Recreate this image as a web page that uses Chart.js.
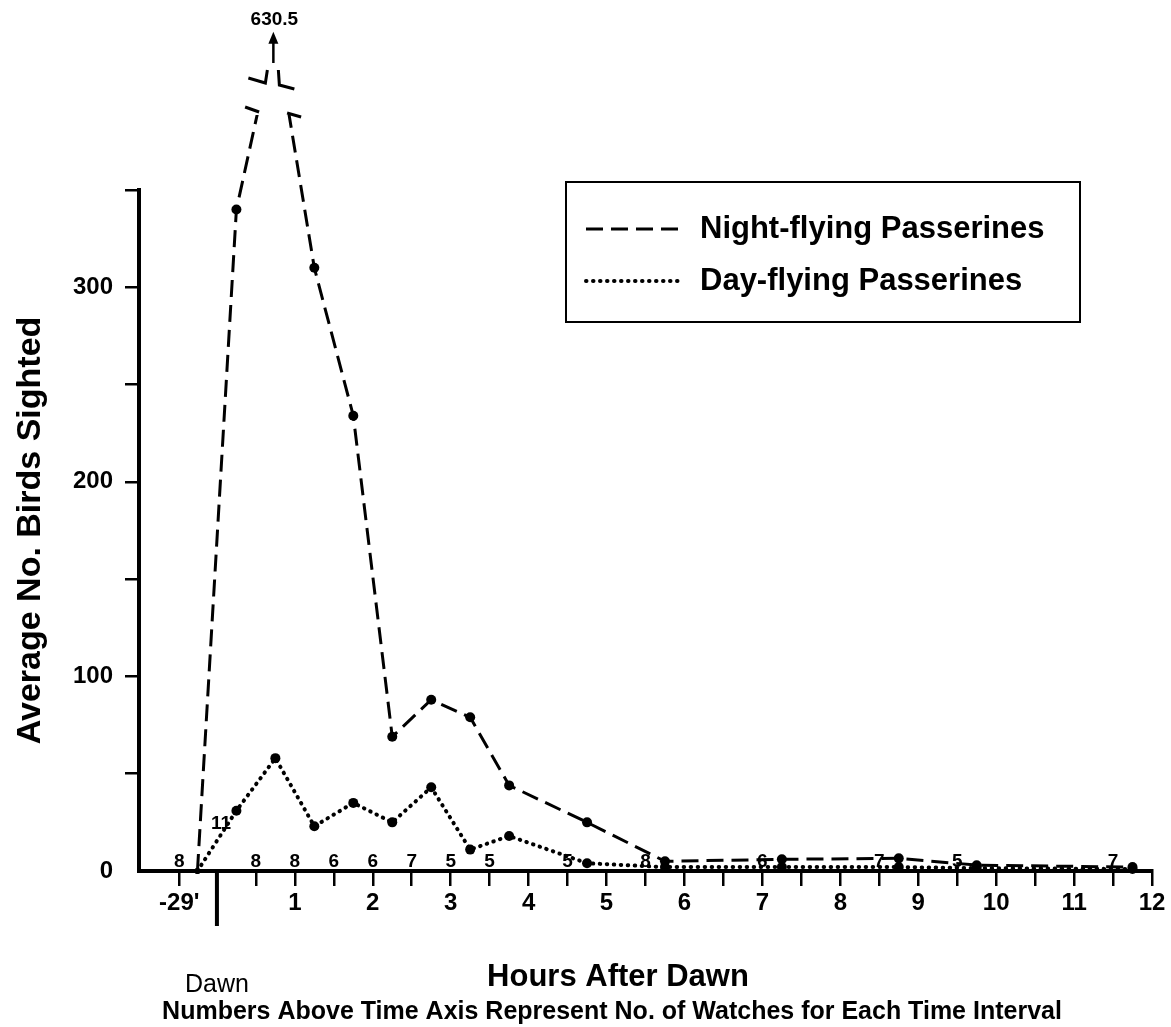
<!DOCTYPE html>
<html><head><meta charset="utf-8">
<script src="https://cdn.jsdelivr.net/npm/chart.js@4.4.1/dist/chart.umd.min.js"></script>
<style>html,body{margin:0;padding:0;background:#fff;}#wrap{width:1171px;height:1027px;position:relative;}canvas{display:block;}</style>
</head><body><div id="wrap"><canvas id="c" width="1171" height="1027"></canvas></div>
<script>
// ---- data ----
const hours = [-0.25, 0.25, 0.75, 1.25, 1.75, 2.25, 2.75, 3.25, 3.75, 4.75, 5.75, 7.25, 8.75, 9.75, 11.75];
const nightFlying = [0, 340, 630.5, 310, 234, 69, 88, 79, 44, 25, 5, 6, 6.5, 3, 2];
const dayFlying = [0, 31, 58, 23, 35, 25, 43, 11, 18, 4, 2, 2, 2, 1.5, 1];
const seriesNames = ['Night-flying Passerines', 'Day-flying Passerines'];
const xTickValues = [-29/60, 0.5, 1, 1.5, 2, 2.5, 3, 3.5, 4, 4.5, 5, 5.5, 6, 6.5, 7, 7.5, 8, 8.5, 9, 9.5, 10, 10.5, 11, 11.5, 12];
const xTickLabels = ["-29'", '', '1', '', '2', '', '3', '', '4', '', '5', '', '6', '', '7', '', '8', '', '9', '', '10', '', '11', '', '12'];
const yTickValues = [0, 50, 100, 150, 200, 250, 300, 350];
const yTickLabels = ['0', '', '100', '', '200', '', '300', ''];
const watchHours = [-29/60, 0, 0.5, 1, 1.5, 2, 2.5, 3, 3.5, 4.5, 5.5, 7, 8.5, 9.5, 11.5];
const watchCounts = [8, 11, 8, 8, 6, 6, 7, 5, 5, 5, 8, 6, 7, 5, 7];
const xTitle = 'Hours After Dawn';
const yTitle = 'Average No. Birds Sighted';
const caption = 'Numbers Above Time Axis Represent No. of Watches for Each Time Interval';
const dawnLabel = 'Dawn';

// broken axis above the top of the y axis
const AXIS_TOP = 350, BREAK_SCALE = 0.29;
const shown = v => v > AXIS_TOP ? AXIS_TOP + (v - AXIS_TOP) * BREAK_SCALE : v;
const peakIndex = nightFlying.indexOf(Math.max(...nightFlying));

const FONT = '"Liberation Sans", Arial, Helvetica, sans-serif';
const CLIP_TOP = 75;

const decor = {
  id: 'decor',
  afterDraw(chart) {
    const {ctx, scales: {x, y}, chartArea: ca} = chart;
    ctx.save();
    ctx.fillStyle = '#000'; ctx.strokeStyle = '#000';
    const y0 = y.getPixelForValue(0);
    // Dawn tick
    const xd = x.getPixelForValue(0);
    ctx.lineWidth = 4; ctx.lineCap = 'butt';
    ctx.beginPath(); ctx.moveTo(xd, y0); ctx.lineTo(xd, y0 + 55); ctx.stroke();
    ctx.font = '25px ' + FONT; ctx.textAlign = 'center'; ctx.textBaseline = 'middle';
    ctx.fillText(dawnLabel, xd, 985);
    // titles
    ctx.font = 'bold 31px ' + FONT;
    ctx.fillText(xTitle, 618, 977);
    ctx.font = 'bold 25px ' + FONT;
    ctx.fillText(caption, 612, 1012);
    // watch counts
    ctx.font = 'bold 19px ' + FONT; ctx.textBaseline = 'alphabetic';
    watchHours.forEach((h, i) => {
      const px = x.getPixelForValue(h);
      if (h === 0) ctx.fillText(String(watchCounts[i]), px + 4, y0 - 42);
      else ctx.fillText(String(watchCounts[i]), px, y0 - 4);
    });
    // break on the peak
    const pts = chart.getDatasetMeta(0).data;
    const pk = pts[peakIndex], a = pts[peakIndex - 1], b = pts[peakIndex + 1];
    const yc = ca.top - CLIP_TOP;
    const at = (p, q) => p.x + (q.x - p.x) * (yc - p.y) / (q.y - p.y);
    const xl = at(a, pk), xr = at(b, pk);
    ctx.lineWidth = 3;
    ctx.beginPath(); ctx.moveTo(xl - 12, yc - 8); ctx.lineTo(xl + 2, yc - 3); ctx.stroke();
    ctx.beginPath(); ctx.moveTo(xr - 2, yc - 2); ctx.lineTo(xr + 12, yc + 2); ctx.stroke();
    const xp = pk.x - 2;
    ctx.beginPath(); ctx.moveTo(xp - 25, yc - 37); ctx.lineTo(xp - 8, yc - 32); ctx.lineTo(xp - 6, yc - 45); ctx.stroke();
    ctx.beginPath(); ctx.moveTo(xp + 5, yc - 45); ctx.lineTo(xp + 6, yc - 30); ctx.lineTo(xp + 21, yc - 26); ctx.stroke();
    ctx.lineWidth = 2.5;
    ctx.beginPath(); ctx.moveTo(xp, yc - 52); ctx.lineTo(xp, pk.y + 4); ctx.stroke();
    ctx.beginPath(); ctx.moveTo(xp - 5, pk.y + 12); ctx.lineTo(xp, pk.y); ctx.lineTo(xp + 5, pk.y + 12); ctx.closePath(); ctx.fill();
    ctx.font = 'bold 19px ' + FONT; ctx.textAlign = 'center'; ctx.textBaseline = 'middle';
    ctx.fillText(String(nightFlying[peakIndex]), xp + 1, pk.y - 12);
    // legend
    ctx.lineWidth = 2;
    ctx.strokeRect(566, 182, 514, 140);
    const ds = chart.data.datasets;
    [229, 281].forEach((ly, i) => {
      ctx.save();
      ctx.lineWidth = ds[i].borderWidth;
      ctx.setLineDash(ds[i].borderDash);
      ctx.lineCap = ds[i].borderCapStyle || 'butt';
      ctx.beginPath(); ctx.moveTo(586, ly); ctx.lineTo(680, ly); ctx.stroke();
      ctx.restore();
      ctx.font = 'bold 31px ' + FONT; ctx.textAlign = 'left'; ctx.textBaseline = 'middle';
      ctx.fillText(ds[i].label, 700, ly);
    });
    ctx.restore();
  }
};

new Chart(document.getElementById('c'), {
  type: 'line',
  data: {
    datasets: [
      {
        label: seriesNames[0],
        data: hours.map((h, i) => ({x: h, y: shown(nightFlying[i])})),
        borderColor: '#000', backgroundColor: '#000', borderWidth: 3,
        borderDash: [17, 8], borderCapStyle: 'butt',
        pointRadius: c => c.dataIndex === peakIndex ? 0 : (c.dataIndex === 0 ? 3 : 5),
        pointBorderWidth: 0, tension: 0,
        clip: {left: 10, top: CLIP_TOP, right: 10, bottom: 10}
      },
      {
        label: seriesNames[1],
        data: hours.map((h, i) => ({x: h, y: dayFlying[i]})),
        borderColor: '#000', backgroundColor: '#000', borderWidth: 4,
        borderDash: [0.5, 6.5], borderCapStyle: 'round',
        pointRadius: c => c.dataIndex === 0 ? 3 : 5,
        pointBorderWidth: 0, tension: 0,
        clip: {left: 10, top: CLIP_TOP, right: 10, bottom: 10}
      }
    ]
  },
  options: {
    responsive: false, animation: false,
    layout: {padding: {left: 0, right: 19, top: 190, bottom: 0}},
    plugins: {legend: {display: false}, tooltip: {enabled: false}, title: {display: false}},
    scales: {
      x: {
        type: 'linear', min: -1, max: 12,
        afterFit: s => { s.height = 156; },
        afterBuildTicks: s => { s.ticks = xTickValues.map(v => ({value: v})); },
        ticks: {
          callback: (v, i) => xTickLabels[i], autoSkip: false, maxRotation: 0,
          color: '#000', font: {family: FONT, size: 24, weight: 'bold'}, padding: 3
        },
        grid: {drawOnChartArea: false, tickLength: 15, color: '#000', tickColor: '#000', lineWidth: 2.5},
        border: {display: true, color: '#000', width: 4}
      },
      y: {
        type: 'linear', min: 0, max: AXIS_TOP,
        afterFit: s => { s.width = 139; },
        afterBuildTicks: s => { s.ticks = yTickValues.map(v => ({value: v})); },
        ticks: {
          callback: (v, i) => yTickLabels[i], autoSkip: false,
          color: '#000', font: {family: FONT, size: 24, weight: 'bold'}, padding: 12
        },
        grid: {
          drawOnChartArea: false, tickLength: 14, lineWidth: 2.5,
          color: c => c.tick && c.tick.value === 0 ? 'rgba(0,0,0,0)' : '#000',
          tickColor: c => c.tick && c.tick.value === 0 ? 'rgba(0,0,0,0)' : '#000'
        },
        border: {display: true, color: '#000', width: 4},
        title: {display: true, text: yTitle, color: '#000', font: {family: FONT, size: 34, weight: 'bold'}, padding: {top: 10, bottom: 0}}
      }
    }
  },
  plugins: [decor]
});
</script></body></html>
